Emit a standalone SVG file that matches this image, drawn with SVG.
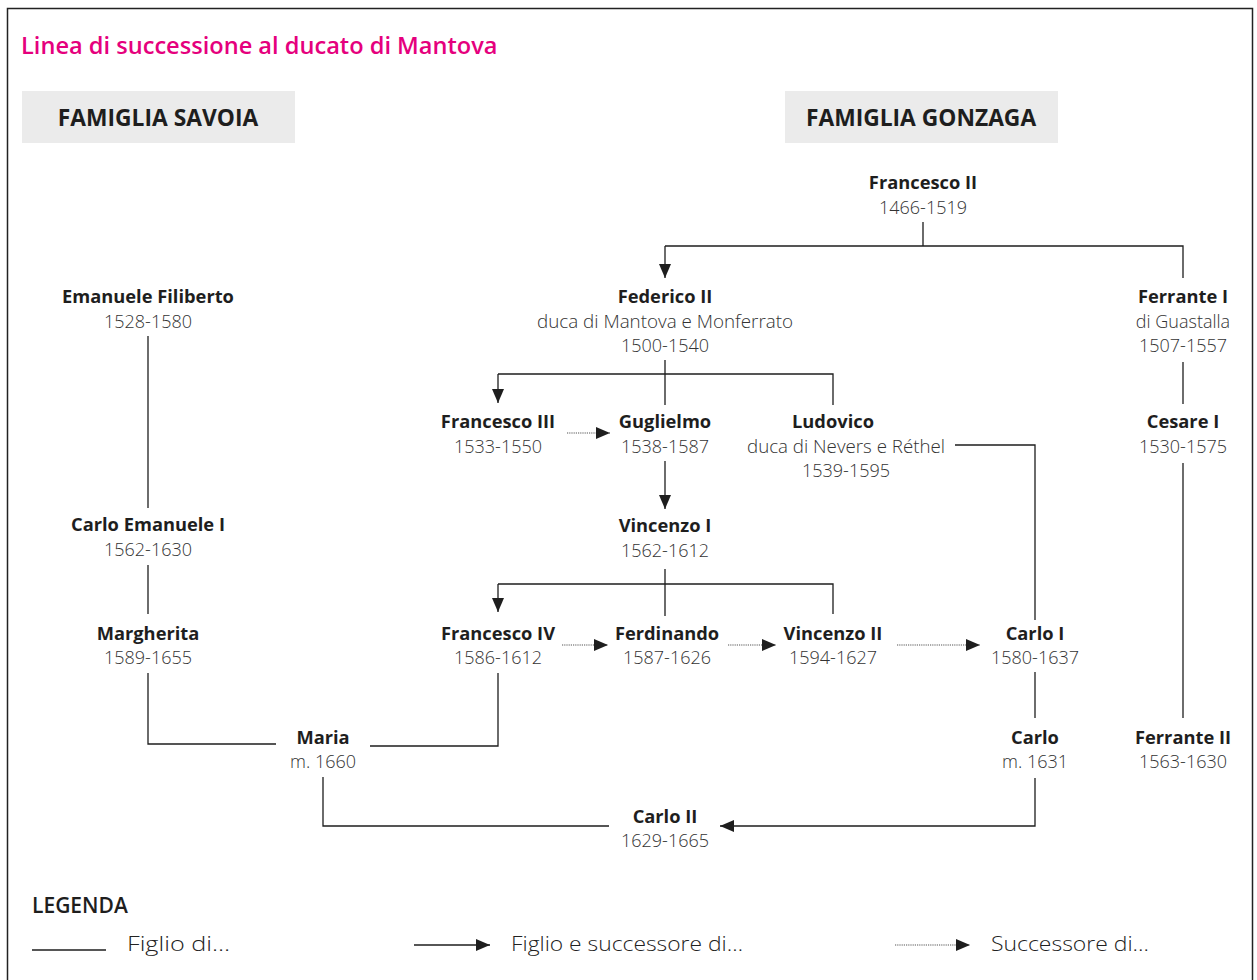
<svg xmlns="http://www.w3.org/2000/svg" width="1257" height="980" viewBox="0 0 1257 980">
<defs>
<style>
.t{font-family:"Open Sans","Noto Sans","Liberation Sans",sans-serif;text-anchor:middle;fill:#1e1e1e}
.n{font-size:18.3px;font-weight:700}
.d{font-size:18px;font-weight:300;fill:#333}
.h{font-size:22.8px;font-weight:700;fill:#1e1e1e}
.ln{fill:none;stroke:#1e1e1e;stroke-width:1.3}
.dot{fill:none;stroke:#555;stroke-width:1.2;stroke-dasharray:1.2 1}
.lg{font-family:"Open Sans","Noto Sans","Liberation Sans",sans-serif;font-size:20.5px;font-weight:300;fill:#222}
</style>
<marker id="ah" viewBox="0 0 14 12" refX="14" refY="6" markerWidth="14" markerHeight="12" markerUnits="userSpaceOnUse" orient="auto">
<path d="M0,0 L14,6 L0,12 Z" fill="#1e1e1e"/>
</marker>
</defs>
<rect x="0" y="0" width="1257" height="980" fill="#fff"/>
<rect x="7.5" y="8.5" width="1245" height="1000" fill="none" stroke="#222" stroke-width="1.5"/>
<text x="21" y="54" style="font-family:'Open Sans','Noto Sans',sans-serif;font-size:23.6px;font-weight:600;fill:#e5007d">Linea di successione al ducato di Mantova</text>
<g id="hdr-savoia"><rect x="22" y="91" width="273" height="52" fill="#ebebeb"/><text class="t h" x="158" y="126">FAMIGLIA SAVOIA</text></g>
<g id="hdr-gonzaga"><rect x="785" y="91" width="273" height="52" fill="#ebebeb"/><text class="t h" x="921" y="126">FAMIGLIA GONZAGA</text></g>

<g id="connectors">
<path class="ln" d="M923,222 V246 M665,246 H1183 V278"/>
<path class="ln" d="M665,246 V278" marker-end="url(#ah)"/>
<path class="ln" d="M665,360 V405 M498,374 H833 V405"/>
<path class="ln" d="M498,374 V403" marker-end="url(#ah)"/>
<path class="ln" d="M1183,362 V404"/>
<path class="ln" d="M1183,463 V718"/>
<path class="dot" d="M567,433 H610" marker-end="url(#ah)"/>
<path class="ln" d="M665,461 V509" marker-end="url(#ah)"/>
<path class="ln" d="M955,445 H1035 V620"/>
<path class="ln" d="M665,569 V616 M498,584 H833 V614"/>
<path class="ln" d="M498,584 V612" marker-end="url(#ah)"/>
<path class="dot" d="M562,645 H608" marker-end="url(#ah)"/>
<path class="dot" d="M728,645 H776" marker-end="url(#ah)"/>
<path class="dot" d="M897,645 H980" marker-end="url(#ah)"/>
<path class="ln" d="M498,673 V746 H370"/>
<path class="ln" d="M148,673 V744 H276"/>
<path class="ln" d="M148,336 V508"/>
<path class="ln" d="M148,565 V614"/>
<path class="ln" d="M1035,672 V718"/>
<path class="ln" d="M323,777 V826 H609"/>
<path class="ln" d="M1035,778 V826 H720" marker-end="url(#ah)"/>
</g>

<g id="francesco-ii"><text class="t n" x="923" y="189">Francesco II</text><text class="t d" x="923" y="214">1466-1519</text></g>
<g id="federico-ii"><text class="t n" x="665" y="303">Federico II</text><text class="t d" x="665" y="328" textLength="256" lengthAdjust="spacingAndGlyphs">duca di Mantova e Monferrato</text><text class="t d" x="665" y="352">1500-1540</text></g>
<g id="ferrante-i"><text class="t n" x="1183" y="303">Ferrante I</text><text class="t d" x="1183" y="328">di Guastalla</text><text class="t d" x="1183" y="352">1507-1557</text></g>
<g id="emanuele-filiberto"><text class="t n" x="148" y="303">Emanuele Filiberto</text><text class="t d" x="148" y="328">1528-1580</text></g>
<g id="francesco-iii"><text class="t n" x="498" y="428">Francesco III</text><text class="t d" x="498" y="453">1533-1550</text></g>
<g id="guglielmo"><text class="t n" x="665" y="428">Guglielmo</text><text class="t d" x="665" y="453">1538-1587</text></g>
<g id="ludovico"><text class="t n" x="833" y="428">Ludovico</text><text class="t d" x="846" y="453" textLength="198" lengthAdjust="spacingAndGlyphs">duca di Nevers e Réthel</text><text class="t d" x="846" y="477">1539-1595</text></g>
<g id="cesare-i"><text class="t n" x="1183" y="428">Cesare I</text><text class="t d" x="1183" y="453">1530-1575</text></g>
<g id="carlo-emanuele-i"><text class="t n" x="148" y="531">Carlo Emanuele I</text><text class="t d" x="148" y="556">1562-1630</text></g>
<g id="vincenzo-i"><text class="t n" x="665" y="532">Vincenzo I</text><text class="t d" x="665" y="557">1562-1612</text></g>
<g id="margherita"><text class="t n" x="148" y="640">Margherita</text><text class="t d" x="148" y="664">1589-1655</text></g>
<g id="francesco-iv"><text class="t n" x="498" y="640">Francesco IV</text><text class="t d" x="498" y="664">1586-1612</text></g>
<g id="ferdinando"><text class="t n" x="667" y="640">Ferdinando</text><text class="t d" x="667" y="664">1587-1626</text></g>
<g id="vincenzo-ii"><text class="t n" x="833" y="640">Vincenzo II</text><text class="t d" x="833" y="664">1594-1627</text></g>
<g id="carlo-i"><text class="t n" x="1035" y="640">Carlo I</text><text class="t d" x="1035" y="664">1580-1637</text></g>
<g id="maria"><text class="t n" x="323" y="744">Maria</text><text class="t d" x="323" y="768">m. 1660</text></g>
<g id="carlo"><text class="t n" x="1035" y="744">Carlo</text><text class="t d" x="1035" y="768">m. 1631</text></g>
<g id="ferrante-ii"><text class="t n" x="1183" y="744">Ferrante II</text><text class="t d" x="1183" y="768">1563-1630</text></g>
<g id="carlo-ii"><text class="t n" x="665" y="823">Carlo II</text><text class="t d" x="665" y="847">1629-1665</text></g>

<g id="legend">
<text x="32" y="913" style="font-family:'Open Sans','Noto Sans',sans-serif;font-size:21px;font-weight:600;fill:#1e1e1e">LEGENDA</text>
<line class="ln" x1="32" y1="950" x2="106" y2="950"/>
<text class="lg" x="127" y="951" textLength="103" lengthAdjust="spacingAndGlyphs">Figlio di…</text>
<path class="ln" d="M414,945 H490" marker-end="url(#ah)"/>
<text class="lg" x="511" y="951" textLength="232" lengthAdjust="spacingAndGlyphs">Figlio e successore di…</text>
<path class="dot" d="M895,945 H970" marker-end="url(#ah)"/>
<text class="lg" x="991" y="951" textLength="158" lengthAdjust="spacingAndGlyphs">Successore di…</text>
</g>
</svg>
